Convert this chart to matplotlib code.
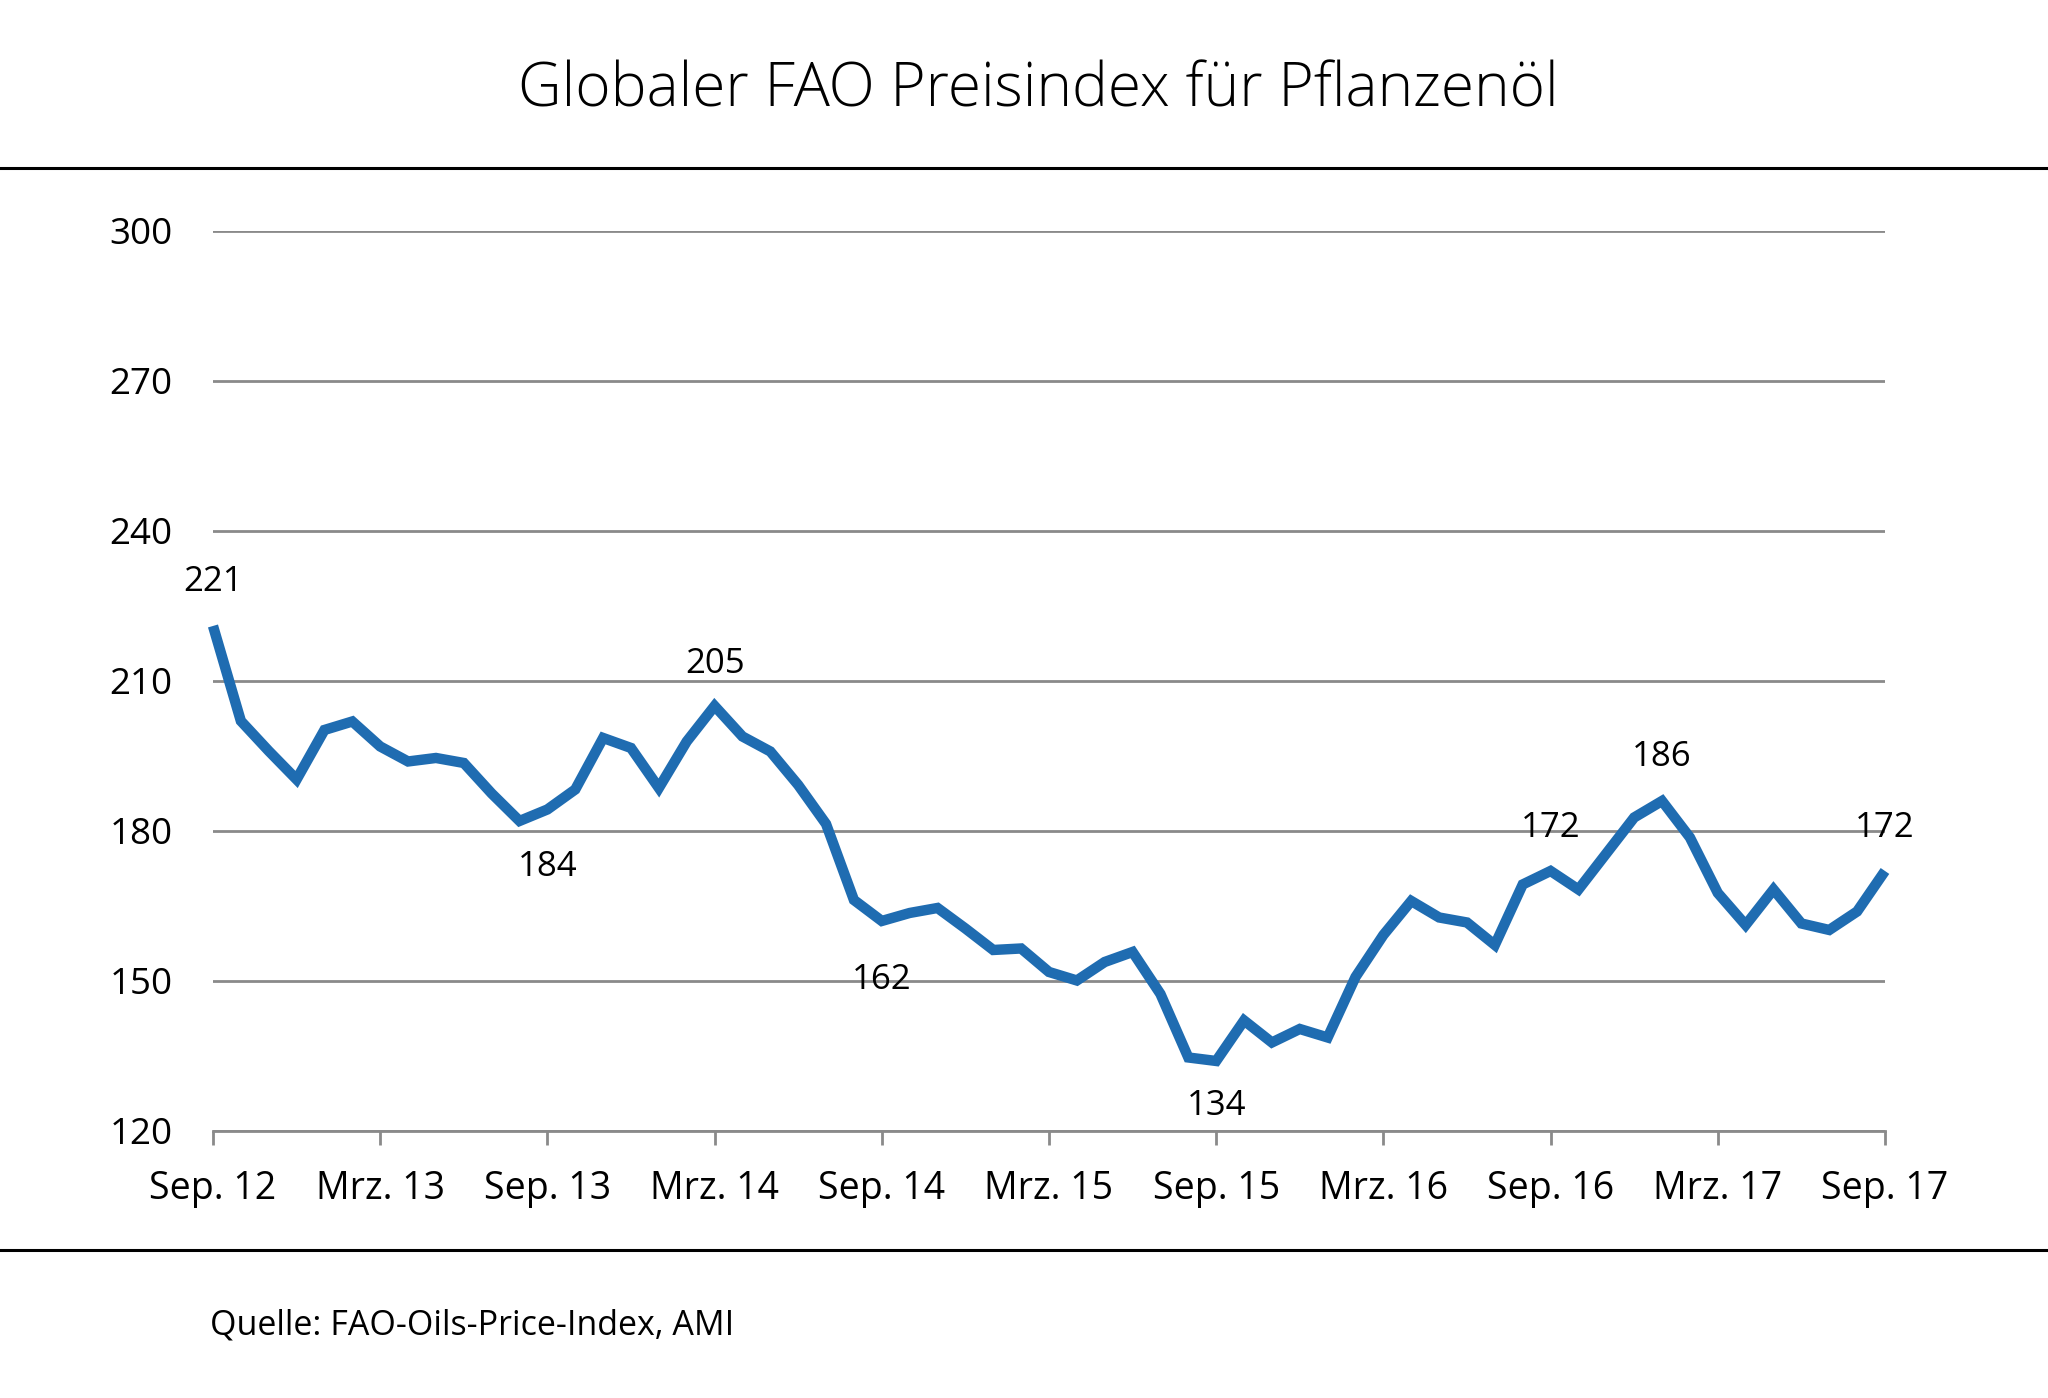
import matplotlib
matplotlib.use("Agg")
import matplotlib.pyplot as plt
from matplotlib.lines import Line2D

plt.rcParams['font.family'] = ['Open Sans', 'DejaVu Sans']

# monthly index values, Sep 2012 .. Sep 2017
index_values = [
    221, 202, 196, 190.3, 200.2, 201.9, 196.9, 193.9, 194.6, 193.6,
    187.5, 182, 184.3, 188.3, 198.6, 196.6, 188.6, 197.9, 205, 198.9,
    195.9, 189.2, 181.4, 166.2, 162, 163.6, 164.6, 160.5, 156.2, 156.5,
    151.8, 150.1, 153.8, 155.8, 147.4, 134.7, 134, 142.1, 137.7, 140.4,
    138.7, 150.8, 159.2, 166, 162.7, 161.7, 157.2, 169.3, 172, 168.3,
    175.5, 182.7, 186, 178.7, 167.6, 161.2, 168.3, 161.5, 160.2, 163.9,
    172,
]
month_labels = ["Sep. 12", "Mrz. 13", "Sep. 13", "Mrz. 14", "Sep. 14", "Mrz. 15",
                "Sep. 15", "Mrz. 16", "Sep. 16", "Mrz. 17", "Sep. 17"]
y_ticks = [120, 150, 180, 210, 240, 270, 300]

# labelled points: (month index, text, pixel offset)
point_labels = [
    (0, "221", 44),
    (12, "184", -58),
    (18, "205", 42),
    (24, "162", -59),
    (36, "134", -45),
    (48, "172", 43),
    (52, "186", 44),
    (60, "172", 43),
]

fig = plt.figure(figsize=(20.48, 13.98), dpi=100)
ax = fig.add_axes([0.104, 0.191, 0.8164, 0.6438])

months = list(range(len(index_values)))
ax.plot(months, index_values, color='#1f6cb1', linewidth=7.5,
        solid_joinstyle='miter', solid_capstyle='butt', clip_on=False, zorder=3)

ax.set_xlim(0, 60)
ax.set_ylim(120, 300)
ax.set_yticks(y_ticks)
ax.set_yticklabels([str(v) for v in y_ticks], fontsize=26.5)
ax.set_xticks(list(range(0, 61, 6)))
ax.set_xticklabels(month_labels, fontsize=27)

ax.grid(axis='y', color='#8a8a8a', linewidth=2)
ax.set_axisbelow(True)
for side in ['left', 'right', 'top']:
    ax.spines[side].set_visible(False)
ax.spines['bottom'].set_color('#8a8a8a')
ax.spines['bottom'].set_linewidth(2)
ax.tick_params(axis='y', length=0, pad=29)
ax.tick_params(axis='x', length=10, width=2, color='#8a8a8a', pad=18)

for i, txt, off in point_labels:
    ax.annotate(txt, (i, index_values[i]), xytext=(0, off), textcoords='offset pixels',
                ha='center', va='center', fontsize=25, annotation_clip=False)

fig.text(0.507, 0.9235, "Globaler FAO Preisindex für Pflanzenöl", ha='center',
         va='baseline', fontsize=43.5, fontweight='light')
fig.add_artist(Line2D([0, 0.999], [0.8798, 0.8798], color='black', linewidth=2.2))
fig.add_artist(Line2D([0, 0.999], [0.1059, 0.1059], color='black', linewidth=2.2))
fig.text(0.1025, 1 - 1335 / 1398, "Quelle: FAO-Oils-Price-Index, AMI", ha='left',
         va='baseline', fontsize=24.5)

fig.savefig("out.png", dpi=100, facecolor='white')
